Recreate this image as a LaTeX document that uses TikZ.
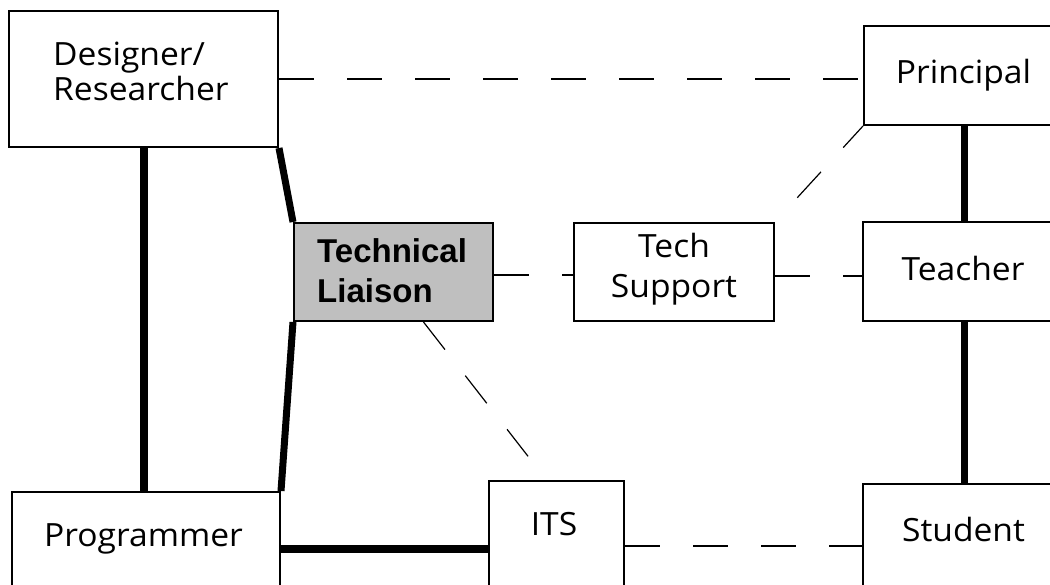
\documentclass[tikz,border=0pt]{standalone}
\usepackage{fontspec}
\setmainfont{Open Sans}[FakeStretch=1.05]
\newfontfamily\liaisonfont{Liberation Sans}
\begin{document}
\begin{tikzpicture}[x=1pt,y=-1pt,
  box/.style={draw, line width=2pt, rectangle, inner sep=0pt, anchor=north west},
  txt/.style={inner sep=0pt, font=\fontsize{32}{35}\selectfont},
  strong/.style={line width=7pt},
  weak/.style={line width=1.2pt, dash pattern=on 35pt off 33pt}]
\useasboundingbox (0,0) rectangle (1050,584);
% boxes
\node[box, minimum width=269, minimum height=136] (D) at (8,10) {};
\node[box, minimum width=201, minimum height=99] (P) at (863,25) {};
\node[box, fill=black!25, minimum width=199, minimum height=98] (L) at (293,222) {};
\node[box, minimum width=200, minimum height=98] (TS) at (573,222) {};
\node[box, minimum width=202, minimum height=99] (T) at (862,221) {};
\node[box, minimum width=268, minimum height=114] (G) at (11,491) {};
\node[box, minimum width=135, minimum height=136] (I) at (488,480) {};
\node[box, minimum width=202, minimum height=124] (S) at (862,483) {};
% texts
\node[txt, anchor=base west, align=left] (Dt) at (53,100) {Designer/\\Researcher};
\node[txt, anchor=base] (Pt) at (963.5,83) {Principal};
\node[txt, anchor=base west, align=left, font=\liaisonfont\bfseries\fontsize{33}{40}\selectfont] (Lt) at (317,302) {Technical\\Liaison};
\node[txt, anchor=base, align=center, font=\fontsize{32}{40}\selectfont] (TSt) at (674,297) {Tech\\Support};
\node[txt, anchor=base] (Tt) at (963,280) {Teacher};
\node[txt, anchor=base] (Gt) at (143.5,546) {Programmer};
\node[txt, anchor=base] (It) at (554,535) {ITS};
\node[txt, anchor=base] (St) at (963.5,541) {Student};
% strong links
\draw[strong, line width=8pt] (D.south) -- (D.south |- G.north);
\draw[strong] (D.south east) -- (L.north west);
\draw[strong] (L.south west) -- (G.north east);
\draw[strong, line width=8pt] (G.east) -- (I.west);
\draw[strong] (P.south) -- (P.south |- T.north);
\draw[strong] (T.south) -- (T.south |- S.north);
% weak links
\draw[weak] (D.east) -- (D.east -| P.west);
\draw[weak] ([yshift=-3pt]L.east) -- ([yshift=-3pt]TS.west);
\draw[weak] ([yshift=-4pt]TS.east) -- ([yshift=-4pt]TS.east -| T.west);
\draw[weak, shorten <=33pt] (TS.north east) -- (P.south west);
\draw[weak, shorten >=30pt] ([xshift=30pt]L.south) -- ([xshift=-10pt]I.north);
\draw[weak] (I.east |- S.west) -- (S.west);
\end{tikzpicture}
\end{document}
